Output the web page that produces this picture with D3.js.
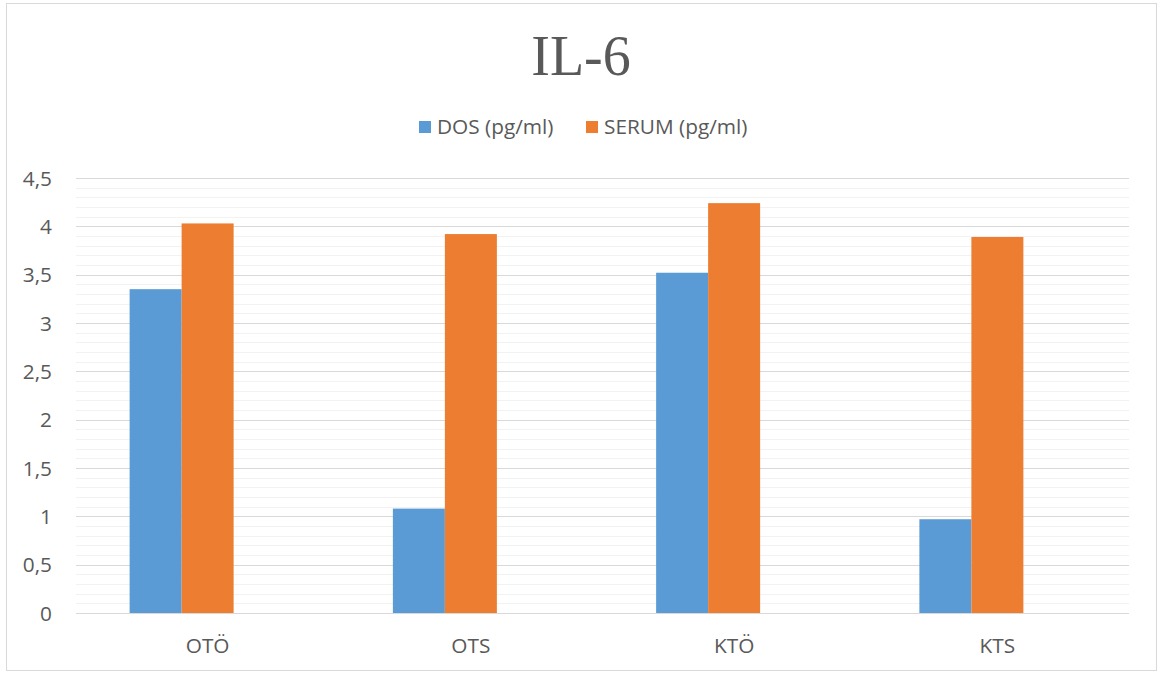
<!DOCTYPE html>
<html>
<head>
<meta charset="utf-8">
<script src="https://cdn.jsdelivr.net/npm/d3@7"></script>
<style>
  html, body { margin: 0; padding: 0; background: #fff; }
  svg { display: block; }
</style>
</head>
<body>
<svg id="chart" width="1162" height="675"></svg>
<script>
// IL-6 levels per group
const categories = ["OTÖ", "OTS", "KTÖ", "KTS"];
const seriesNames = ["DOS (pg/ml)", "SERUM (pg/ml)"];
const dosValues = [3.35, 1.08, 3.52, 0.97];
const serumValues = [4.03, 3.92, 4.24, 3.89];
const yTicks = [0, 0.5, 1, 1.5, 2, 2.5, 3, 3.5, 4, 4.5];
const seriesColors = ["#5B9BD5", "#ED7D31"];

const svg = d3.select("#chart");
const plot = { left: 76, right: 1129, top: 178, bottom: 613 };
const textColor = "#595959";
const labelFont = "'Open Sans', Lato, sans-serif";
const labelSize = 20.8;

// chart frame
svg.append("rect")
  .attr("x", 6.5).attr("y", 3.5)
  .attr("width", 1150).attr("height", 667)
  .attr("fill", "#fff").attr("stroke", "#d9d9d9").attr("stroke-width", 1);

const y = d3.scaleLinear().domain([0, 4.5]).range([plot.bottom, plot.top]);
const x0 = d3.scaleBand().domain(categories).range([plot.left, plot.right]);
// each group reserves three bar slots; the third stays empty
const slotSpan = 156;
const slotOffset = (x0.bandwidth() - slotSpan) / 2;
const x1 = d3.scaleBand().domain([0, 1, 2]).range([slotOffset, slotOffset + slotSpan]);

// minor gridlines every 0.1
const minor = d3.range(0, 46).map(i => i / 10).filter(v => Math.round(v * 10) % 5 !== 0);
svg.append("g").selectAll("line").data(minor).join("line")
  .attr("x1", plot.left).attr("x2", plot.right)
  .attr("y1", d => Math.round(y(d)) + 0.5).attr("y2", d => Math.round(y(d)) + 0.5)
  .attr("stroke", "#f2f2f2").attr("stroke-width", 1);

// major gridlines
svg.append("g").selectAll("line").data(yTicks).join("line")
  .attr("x1", plot.left).attr("x2", plot.right)
  .attr("y1", d => Math.round(y(d)) + 0.5).attr("y2", d => Math.round(y(d)) + 0.5)
  .attr("stroke", "#d9d9d9").attr("stroke-width", 1);

// y axis labels (decimal comma)
const fmt = d => String(d).replace(".", ",");
const yAxis = d3.axisLeft(y).tickValues(yTicks).tickFormat(fmt).tickSize(0).tickPadding(0);
const yg = svg.append("g").attr("transform", `translate(52,0)`).call(yAxis);
yg.select(".domain").remove();
yg.selectAll("text")
  .attr("fill", textColor).attr("font-family", labelFont).attr("font-size", labelSize)
  .attr("dy", "0.35em");

// x axis labels
const xAxis = d3.axisBottom(x0).tickSize(0).tickPadding(0);
const xg = svg.append("g").attr("transform", `translate(0,${plot.bottom + 25})`).call(xAxis);
xg.select(".domain").remove();
xg.selectAll("text")
  .attr("fill", textColor).attr("font-family", labelFont).attr("font-size", labelSize)
  .attr("dy", "0.7em");

// bars
const rows = categories.map((c, i) => ({ cat: c, vals: [dosValues[i], serumValues[i]] }));
const groups = svg.append("g").selectAll("g").data(rows).join("g")
  .attr("transform", d => `translate(${x0(d.cat)},0)`);
groups.selectAll("rect").data(d => d.vals.map((v, j) => ({ v, j }))).join("rect")
  .attr("x", d => x1(d.j))
  .attr("width", x1.bandwidth())
  .attr("y", d => y(d.v))
  .attr("height", d => y(0) - y(d.v))
  .attr("fill", d => seriesColors[d.j]);

// title
svg.append("text")
  .attr("x", 581).attr("y", 75)
  .attr("text-anchor", "middle")
  .attr("font-family", "'Liberation Serif', 'Times New Roman', serif")
  .attr("font-size", 56)
  .attr("fill", textColor)
  .text("IL-6");

// legend
const legendItems = [
  { name: seriesNames[0], color: seriesColors[0], x: 419 },
  { name: seriesNames[1], color: seriesColors[1], x: 586 }
];
const lg = svg.append("g").selectAll("g").data(legendItems).join("g")
  .attr("transform", d => `translate(${d.x},121)`);
lg.append("rect").attr("width", 12).attr("height", 12).attr("fill", d => d.color);
lg.append("text")
  .attr("x", 18).attr("y", 6).attr("dy", "0.35em")
  .attr("font-family", labelFont).attr("font-size", labelSize)
  .attr("fill", textColor)
  .text(d => d.name);
</script>
</body>
</html>
